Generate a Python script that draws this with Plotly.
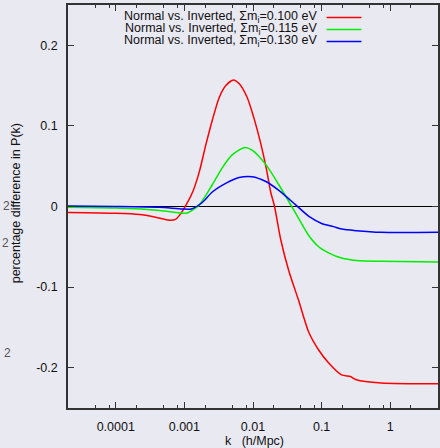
import plotly.graph_objects as go

# k (h/Mpc) and percentage difference in P(k)
k_red = [2.01e-5, 1.0e-4, 2.23e-4, 3.67e-4, 6.07e-4, 7.41e-4, 8.47e-4, 1.06e-3, 1.32e-3,
         1.65e-3, 2.06e-3, 2.57e-3, 3.21e-3, 4.02e-3, 5.18e-3, 6.27e-3, 8.26e-3, 1.03e-2,
         1.29e-2, 1.56e-2, 1.81e-2, 2.06e-2, 2.52e-2, 3.33e-2, 4.64e-2, 6.49e-2, 9.06e-2,
         0.126, 0.195, 0.263, 0.321, 0.741, 4.97]
pk_red = [-0.0075, -0.0085, -0.010, -0.013, -0.017, -0.016, -0.011, 0.002, 0.018,
          0.043, 0.077, 0.108, 0.135, 0.150, 0.157, 0.1525, 0.135, 0.110,
          0.079, 0.0475, 0.018, 0.0, -0.040, -0.080, -0.117, -0.156, -0.178,
          -0.194, -0.209, -0.211, -0.215, -0.219, -0.220]

k_green = [2.01e-5, 1.0e-4, 4.35e-4, 8.47e-4, 1.10e-3, 1.65e-3, 2.55e-3, 3.56e-3, 4.97e-3,
           7.41e-3, 9.68e-3, 1.54e-2, 2.38e-2, 3.67e-2, 4.64e-2, 6.49e-2, 9.06e-2, 0.126,
           0.195, 0.321, 0.741, 4.97]
pk_green = [-0.001, -0.002, -0.005, -0.008, -0.008, 0.002, 0.027, 0.048, 0.064,
            0.073, 0.070, 0.052, 0.027, 0.0, -0.015, -0.036, -0.050, -0.0575,
            -0.064, -0.067, -0.068, -0.069]

k_blue = [2.01e-5, 1.0e-4, 4.35e-4, 9.36e-4, 1.26e-3, 1.82e-3, 2.55e-3, 4.06e-3, 6.27e-3,
          9.68e-3, 1.54e-2, 2.38e-2, 4.20e-2, 6.70e-2, 0.100, 0.149, 0.195, 0.321, 0.741, 4.97]
pk_blue = [0.0005, 0.0, -0.001, -0.003, -0.003, 0.005, 0.018, 0.029, 0.036,
           0.037, 0.031, 0.020, 0.002, -0.013, -0.021, -0.025, -0.028, -0.030, -0.032, -0.032]

series_names = ["Normal vs. Inverted, \u03a3m<sub>i</sub>=0.100 eV",
                "Normal vs. Inverted, \u03a3m<sub>i</sub>=0.115 eV",
                "Normal vs. Inverted, \u03a3m<sub>i</sub>=0.130 eV"]
series_colors = ["#ff0000", "#00ee00", "#0000ff"]

x_tickvals = [1e-4, 1e-3, 1e-2, 1e-1, 1]
x_ticktext = ["0.0001", "0.001", "0.01", "0.1", "1"]
x_minor = [m * 10.0 ** d for d in range(-5, 1) for m in (2, 5, 8)]
y_tickvals = [-0.2, -0.1, 0, 0.1, 0.2]
y_ticktext = ["-0.2", "-0.1", "0", "0.1", "0.2"]

BG = "#e9e9f2"
AX = "#333333"
FONT = "Liberation Sans, Arial, Helvetica, sans-serif"

W, H = 440, 448
ML, MR, MT, MB = 68, 0, 5, 40
PW, PH = W - ML - MR, H - MT - MB


def px(xp):
    return (xp - ML) / PW


def py(yp):
    return (H - MB - yp) / PH


fig = go.Figure()
for k, v, c in zip([k_red, k_green, k_blue], [pk_red, pk_green, pk_blue], series_colors):
    fig.add_trace(go.Scatter(x=k, y=v, mode="lines",
                             line=dict(color=c, width=1.5, shape="spline", smoothing=0.7),
                             showlegend=False, hoverinfo="skip"))

annotations = []
shapes = []
rows = [17, 29, 41]
for name, c, r in zip(series_names, series_colors, rows):
    annotations.append(dict(x=px(320), y=py(r), xref="paper", yref="paper", text=name,
                            showarrow=False, xanchor="right", yanchor="middle",
                            font=dict(size=12.5, color="#111111", family=FONT)))
    shapes.append(dict(type="line", xref="paper", yref="paper", x0=px(328), x1=px(363),
                       y0=py(r + 0.5), y1=py(r + 0.5), line=dict(color=c, width=1.5)))

# axis titles
annotations.append(dict(x=px(16), y=py(203), xref="paper", yref="paper",
                        text="percentage difference in P(k)", textangle=-90, showarrow=False,
                        xanchor="center", yanchor="middle",
                        font=dict(size=12.5, color="#111111", family=FONT)))
annotations.append(dict(x=px(256), y=py(441), xref="paper", yref="paper",
                        text="k   (h/Mpc)", showarrow=False, xanchor="center", yanchor="middle",
                        font=dict(size=12.5, color="#111111", family=FONT)))
# clipped fragments of a neighbouring panel
for xp, yp in [(6, 206), (5, 243), (7, 353)]:
    annotations.append(dict(x=px(xp), y=py(yp), xref="paper", yref="paper", text="2",
                            showarrow=False, xanchor="center", yanchor="middle",
                            font=dict(size=12, color="#555555", family=FONT)))

fig.update_layout(
    width=W, height=H,
    margin=dict(l=ML, r=MR, t=MT, b=MB),
    paper_bgcolor=BG, plot_bgcolor=BG,
    showlegend=False,
    annotations=annotations, shapes=shapes,
    font=dict(family=FONT, size=12.5, color="#111111"),
    xaxis=dict(type="log", range=[-4.696, 0.696], tickmode="array", tickvals=x_tickvals,
               ticktext=x_ticktext, ticks="inside", ticklen=6, tickwidth=1, tickcolor=AX,
               showline=True, linecolor=AX, linewidth=1.5, mirror="ticks", showgrid=False,
               zeroline=False, ticklabelstandoff=6,
               minor=dict(tickmode="array", tickvals=x_minor, ticks="inside", ticklen=3,
                          tickwidth=1, tickcolor=AX, showgrid=False)),
    yaxis=dict(range=[-0.25, 0.25], tickmode="array", tickvals=y_tickvals, ticktext=y_ticktext,
               ticks="inside", ticklen=6, tickwidth=1, tickcolor=AX,
               showline=True, linecolor=AX, linewidth=1.5, mirror="ticks", showgrid=False,
               zeroline=True, zerolinecolor="#000000", zerolinewidth=1, ticklabelstandoff=6),
)

fig.write_html("out.html", config={"displayModeBar": False},
               post_script="document.body.style.margin='0';document.body.style.padding='0';"
                           "document.body.style.overflow='hidden';"
                           "document.documentElement.style.overflow='hidden';")
